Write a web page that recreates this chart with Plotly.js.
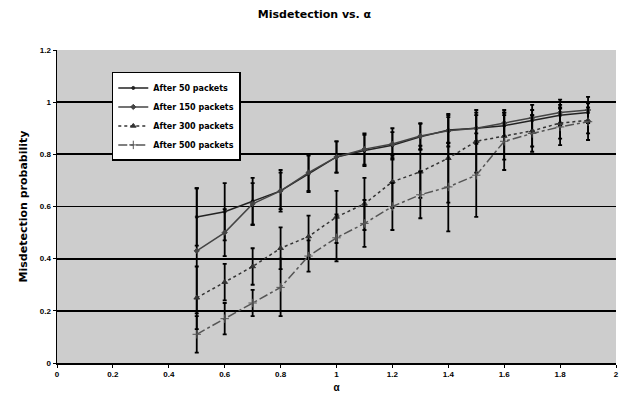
<!DOCTYPE html>
<html>
<head>
<meta charset="utf-8">
<script src="https://cdn.plot.ly/plotly-3.0.1.min.js"></script>
<style>html,body{margin:0;padding:0;background:#fff;}#chart{width:629px;height:396px;}</style>
</head>
<body>
<div id="chart"></div>
<script>
var alpha = [0.5,0.6,0.7,0.8,0.9,1.0,1.1,1.2,1.3,1.4,1.5,1.6,1.7,1.8,1.9];
var seriesNames = ["After 50 packets","After 150 packets","After 300 packets","After 500 packets"];
var after50  = [0.56,0.58,0.62,0.66,0.725,0.79,0.815,0.835,0.867,0.893,0.90,0.91,0.93,0.95,0.96];
var after150 = [0.43,0.50,0.61,0.66,0.73,0.79,0.82,0.84,0.87,0.89,0.90,0.92,0.94,0.96,0.97];
var after300 = [0.25,0.31,0.37,0.44,0.485,0.56,0.61,0.695,0.733,0.785,0.85,0.87,0.89,0.92,0.93];
var after500 = [0.11,0.17,0.23,0.29,0.41,0.48,0.535,0.60,0.645,0.675,0.72,0.85,0.88,0.905,0.925];
var err50  = [0.11,0.11,0.09,0.08,0.07,0.06,0.06,0.05,0.05,0.05,0.05,0.04,0.04,0.04,0.04];
var err150 = [0.24,0.09,0.08,0.07,0.07,0.06,0.06,0.06,0.05,0.06,0.06,0.05,0.05,0.05,0.05];
var err300 = [0.12,0.07,0.07,0.08,0.08,0.10,0.10,0.10,0.10,0.17,0.12,0.09,0.06,0.06,0.05];
var err500 = [0.07,0.06,0.05,0.11,0.06,0.09,0.09,0.09,0.09,0.17,0.16,0.11,0.07,0.07,0.07];
var xTicks = [0,0.2,0.4,0.6,0.8,1,1.2,1.4,1.6,1.8,2];
var xTickText = ["0","0.2","0.4","0.6","0.8","1","1.2","1.4","1.6","1.8","2"];
var yTicks = [0,0.2,0.4,0.6,0.8,1,1.2];
var yTickText = ["0","0.2","0.4","0.6","0.8","1","1.2"];

var ys = [after50, after150, after300, after500];
var errs = [err50, err150, err300, err500];
var styles = [
  {color:'#222', dash:'solid', symbol:'circle', size:3},
  {color:'#444', dash:'solid', symbol:'diamond', size:4},
  {color:'#333', dash:'dot', symbol:'triangle-up', size:5},
  {color:'#555', dash:'dashdot', symbol:'cross-thin-open', size:6}
];
var traces = ys.map(function(y,i){
  var s = styles[i];
  return {
    x: alpha, y: y, name: '<b>' + seriesNames[i] + '</b>', type:'scatter', mode:'lines+markers',
    line:{color:s.color, width:1.5, dash:s.dash},
    marker:{color:s.color, symbol:s.symbol, size:s.size, line:{color:s.color,width:1}},
    error_y:{type:'data', array:errs[i], visible:true, color:'#000', thickness:1.8, width:2}
  };
});

var layout = {
  width:629, height:396,
  margin:{l:57, r:13, t:50, b:33},
  paper_bgcolor:'#ffffff',
  plot_bgcolor:'#cdcdcd',
  font:{family:'"Liberation Sans", Arial, sans-serif', color:'#000', size:8},
  title:{text:'<b>Misdetection vs. α</b>', x:0.5, xanchor:'center', y:0.965, yanchor:'middle', font:{size:11, family:'"DejaVu Sans", sans-serif'}},
  xaxis:{range:[0,2], tickvals:xTicks, ticktext:xTickText, showgrid:false, zeroline:false,
    showline:true, linecolor:'#000', linewidth:1.5, ticks:'outside', ticklen:3, tickcolor:'#000',
    tickfont:{size:8, weight:'bold'}, title:{text:'<b>α</b>', font:{size:10}, standoff:6}},
  yaxis:{range:[0,1.2], tickvals:yTicks, ticktext:yTickText, showgrid:true, gridcolor:'#000', gridwidth:1.8,
    zeroline:false, showline:true, linecolor:'#000', linewidth:1.5, ticks:'outside', ticklen:3, tickcolor:'#000',
    tickfont:{size:8, weight:'bold'}, title:{text:'<b>Misdetection probability</b>', font:{size:11, family:'"DejaVu Sans", sans-serif'}, standoff:10}},
  legend:{x:0.098, y:0.93, xanchor:'left', yanchor:'top', bgcolor:'#ffffff', bordercolor:'#000', borderwidth:1.5,
    font:{size:8, family:'"DejaVu Sans", sans-serif'}, tracegroupgap:0, itemwidth:30},
  showlegend:true
};
Plotly.newPlot('chart', traces, layout, {displayModeBar:false, staticPlot:true});
</script>
</body>
</html>
